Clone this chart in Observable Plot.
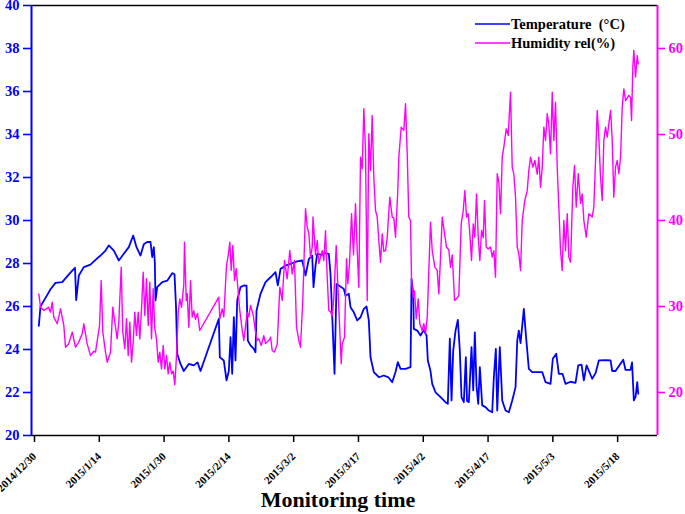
<!DOCTYPE html>
<html>
<head>
<meta charset="utf-8">
<script src="https://cdn.jsdelivr.net/npm/d3@7"></script>
<script src="https://cdn.jsdelivr.net/npm/@observablehq/plot@0.6"></script>
<style>
  body { margin: 0; background: #fff; }
  #chart svg { display: block; }
</style>
</head>
<body>
<div id="chart"></div>
<script>
// ---- Data ----
const startDate = "2014-12-30T00:00Z";
const endDate = "2015-05-28T18:00Z";

const xTickDates = ["2014-12-30T00:00Z","2015-01-14T12:00Z","2015-01-30T00:00Z","2015-02-14T12:00Z","2015-03-02T00:00Z","2015-03-17T12:00Z","2015-04-02T00:00Z","2015-04-17T12:00Z","2015-05-03T00:00Z","2015-05-18T12:00Z"];
const xTickLabels = ["2014/12/30","2015/1/14","2015/1/30","2015/2/14","2015/3/2","2015/3/17","2015/4/2","2015/4/17","2015/5/3","2015/5/18"];
const tempTicks = [20,22,24,26,28,30,32,34,36,38,40];
const humTicks = [20,30,40,50,60];
const tempDomain = [20, 40];
const humDomain = [15, 65];

// days since 2014-12-30
const tempDays = [1.75,2.15,3.35,4.55,5.74,7.34,8.54,9.74,10.41,10.69,11.32,12.51,14.11,15.31,16.51,17.70,18.49,19.69,20.89,22.08,23.28,24.33,25.12,26.08,26.87,27.68,28.47,28.88,29.26,29.50,29.67,30.07,31.27,32.46,33.66,34.21,34.57,34.86,35.65,36.43,37.63,38.83,39.71,40.43,44.81,45.05,46.00,46.65,47.20,47.61,48.01,48.40,48.80,49.21,50.00,50.79,51.44,51.75,52.39,53.18,53.59,53.83,54.78,55.98,57.18,58.37,58.92,59.57,60.77,61.96,63.56,64.76,65.55,66.34,67.15,67.46,67.94,68.35,69.55,70.33,71.12,71.53,72.01,72.49,72.97,73.52,74.71,75.12,75.91,76.32,77.10,77.92,78.71,79.50,80.14,80.69,81.10,81.89,83.09,84.28,85.41,86.29,87.08,87.63,88.28,89.47,90.67,90.91,91.32,91.46,92.27,93.06,93.78,94.50,94.81,95.45,95.86,96.65,97.85,99.04,99.59,100.07,100.48,100.88,101.44,101.99,102.46,102.87,103.42,103.90,104.19,104.62,105.26,105.67,106.05,106.46,106.87,107.25,107.82,108.61,109.40,110.21,110.60,111.08,111.41,112.03,112.61,113.40,114.19,115.00,115.79,116.20,116.58,116.99,117.78,118.18,118.97,119.78,122.18,122.97,124.16,124.71,125.53,126.15,127.03,127.75,128.95,130.14,130.79,131.58,132.13,132.78,134.13,134.93,135.72,137.32,138.52,138.92,139.71,141.55,142.11,143.30,143.66,144.09,144.50,144.90,145.14];
const tempValues = [25.1,26.0,26.4,26.8,27.1,27.13,27.4,27.67,27.8,26.3,27.44,27.83,27.95,28.17,28.37,28.6,28.84,28.6,28.14,28.45,28.76,29.3,28.76,28.37,28.9,29.0,29.0,28.3,28.76,28.06,26.28,26.9,27.13,27.2,27.55,27.5,26.0,23.8,23.33,23.0,23.33,23.26,23.4,23.0,25.43,23.64,23.49,22.56,23.0,24.57,22.87,25.5,23.49,26.28,26.9,26.98,26.97,24.42,24.19,24.03,23.87,25.81,26.59,27.13,27.36,27.6,26.98,27.75,27.9,27.98,28.1,28.14,27.44,28.2,28.37,26.9,27.9,28.45,28.4,28.48,28.45,27.5,25.2,22.87,27.05,26.98,26.82,26.5,26.59,25.97,25.73,25.35,25.5,25.89,26.0,25.35,23.64,22.95,22.71,22.79,22.7,22.48,22.95,23.41,23.1,23.1,23.18,27.28,26.59,24.96,24.88,24.65,24.9,24.65,23.49,23.0,22.4,22.01,21.78,21.55,21.47,24.5,21.63,23.95,24.88,25.38,23.95,21.78,21.55,23.64,21.6,21.55,24.11,22.1,24.8,22.3,21.47,23.18,21.4,21.32,21.16,21.08,22.71,24.03,21.16,24.11,21.63,21.16,21.08,21.63,22.25,24.42,24.88,24.3,25.89,24.88,23.1,22.95,22.95,22.48,22.4,23.57,23.8,22.87,22.87,22.4,22.5,22.45,23.26,23.3,22.56,23.26,22.64,22.9,23.49,23.5,23.49,23.0,23.0,23.52,23.05,23.05,23.4,21.63,21.8,22.48,21.94];

const humDays = [1.75,2.15,2.94,4.07,4.55,4.95,5.33,6.15,6.94,7.73,8.13,8.85,9.74,10.53,11.24,12.13,12.51,13.32,14.11,14.90,15.31,16.27,16.67,17.06,17.70,18.11,18.90,19.45,19.93,20.50,20.89,21.46,21.84,22.32,22.73,23.13,23.52,23.92,24.33,24.71,25.12,25.53,25.91,26.32,26.72,27.11,27.51,27.92,28.30,28.71,29.11,29.50,29.90,30.31,30.69,31.10,31.51,31.89,32.30,32.70,33.09,33.49,33.90,34.28,34.69,35.10,35.48,35.89,36.43,36.60,37.01,37.25,37.63,38.04,38.44,38.83,39.23,39.71,40.26,44.81,45.05,45.62,46.00,46.65,47.06,47.44,47.77,48.16,48.56,48.97,49.35,49.83,50.41,50.79,51.60,51.99,52.39,53.04,53.59,53.99,54.38,54.95,55.57,55.98,56.77,57.18,57.58,58.13,58.78,59.40,59.98,60.53,61.17,61.79,62.37,62.92,63.40,63.95,64.35,64.90,65.14,65.55,65.96,66.34,66.75,67.15,67.34,67.94,68.35,68.73,69.55,69.93,70.33,70.74,71.12,71.53,71.93,72.32,72.89,73.28,73.68,74.09,74.33,74.88,75.36,75.67,76.08,76.56,77.03,77.51,77.92,78.30,78.71,79.11,79.50,79.90,80.31,80.69,81.10,81.50,81.89,82.30,82.70,83.09,83.49,83.90,84.28,84.69,85.09,85.71,86.29,86.67,87.08,87.63,87.87,88.44,89.07,89.47,89.88,90.26,90.67,90.91,91.32,91.63,92.03,92.51,92.89,93.47,93.85,94.26,94.67,95.05,95.45,95.86,96.48,97.06,97.44,97.85,98.25,98.80,99.28,99.83,100.24,100.65,101.20,101.84,102.22,102.80,103.28,103.66,104.07,104.47,104.86,105.26,105.67,106.05,106.46,106.87,107.25,107.66,108.06,108.37,108.78,109.26,109.81,110.21,110.60,111.00,111.41,111.79,112.20,112.61,112.99,113.56,114.04,114.59,115.00,115.38,115.79,116.20,116.58,116.99,117.39,118.01,118.59,118.97,119.38,119.93,120.41,120.98,121.36,121.77,122.18,122.56,122.97,123.37,123.75,124.16,124.57,124.95,125.36,125.76,126.15,126.55,126.96,127.34,127.75,128.16,128.54,128.95,129.50,129.90,130.31,130.79,131.34,131.74,132.13,132.70,133.32,134.13,134.52,134.93,135.33,135.72,136.12,136.53,136.91,137.32,137.72,138.11,138.52,138.92,139.30,139.71,140.11,140.50,140.91,141.31,141.70,142.11,142.89,143.30,143.54,143.85,144.09,144.50,144.90,145.14];
const humValues = [31.47,29.92,29.53,29.9,29.34,30.5,28.76,27.99,29.73,27.79,25.27,25.6,27.01,25.27,25.8,26.82,27.99,25.66,24.3,24.8,24.69,27.79,33.02,27.01,24.69,23.52,24.69,29.92,28.17,26.24,28.17,34.57,27.01,25.08,28.57,24.3,28.17,23.52,25.85,29.34,26.63,29.34,26.24,29.73,33.99,28.95,33.22,27.79,32.83,26.24,32.06,27.4,26.24,23.52,24.69,22.75,25.47,22.75,24.3,22.17,23.52,22.17,22.5,20.9,24.3,29.34,30.89,29.9,32.5,37.48,30.7,31.5,27.6,33.0,28.76,29.5,28.5,29.2,27.21,31.08,28.57,29.73,28.8,34.77,35.93,37.48,34.2,37.09,33.02,34.4,32.24,29.53,27.21,26.05,29.34,28.8,30.12,29.0,27.01,26.05,26.24,25.47,26.6,25.7,26.05,26.43,24.88,24.7,25.6,32.24,30.7,35.35,33.22,36.51,33.8,35.35,27.6,26.05,25.27,30.7,34.57,41.36,39.22,38.5,35.74,36.9,40.4,36.0,37.67,35.0,36.5,35.35,38.8,33.4,29.53,29.4,28.9,31.0,37.1,32.5,27.99,23.34,25.66,26.43,35.55,32.64,35.0,40.78,36.0,41.94,36.5,32.24,47.36,46.0,52.99,48.14,30.7,50.08,45.81,52.21,45.04,41.16,40.39,37.67,35.15,38.45,36.4,36.51,38.0,42.71,40.39,40.3,38.06,43.49,47.36,50.85,50.5,53.57,47.75,40.39,40.0,33.02,31.08,31.8,28.57,30.89,27.99,27.21,28.0,26.82,28.76,34.19,39.81,36.51,34.57,34.2,31.47,35.74,40.39,38.5,36.9,36.6,34.57,36.0,30.7,31.0,31.28,39.61,41.16,43.49,40.4,40.78,38.45,35.35,39.6,38.06,43.1,38.06,35.35,38.84,38.0,42.33,36.9,36.7,36.9,35.74,36.5,33.4,45.43,44.5,40.78,47.36,48.52,50.66,49.9,54.92,46.2,45.4,42.71,36.9,36.12,34.19,40.0,42.33,43.5,45.81,47.36,46.2,46.98,45.4,47.36,43.87,46.2,50.85,49.3,52.41,51.2,47.75,54.92,49.3,53.76,46.2,41.55,36.51,34.19,40.0,36.5,40.8,35.74,35.15,43.87,46.4,41.55,45.43,42.0,43.1,40.0,38.06,40.78,40.4,41.55,46.98,52.79,49.7,45.04,42.33,49.3,50.85,49.7,51.24,52.79,49.3,42.71,46.2,46.98,45.43,47.36,53.18,55.31,53.95,54.54,54.3,51.63,57.83,59.77,56.67,59.19,58.2];

// ---- Build tables ----
const t0 = new Date(startDate).getTime();
const toDate = d => new Date(t0 + d * 864e5);
const temperature = tempDays.map((d, i) => ({date: toDate(d), value: tempValues[i]}));
const humidity = humDays.map((d, i) => ({date: toDate(d), value: humValues[i]}));
const xTicks = xTickDates.map(s => new Date(s));

// humidity (right axis) mapped onto the temperature (left) scale
const h2t = d3.scaleLinear(humDomain, tempDomain);

const BLUE = "#0000ff", MAGENTA = "#ff00ff";
const FONT = "'Liberation Serif', 'Times New Roman', serif";

const chart = Plot.plot({
  width: 685,
  height: 514,
  marginLeft: 31,
  marginRight: 28,
  marginTop: 5,
  marginBottom: 79,
  style: {fontFamily: FONT, fontWeight: "bold", background: "#fff", overflow: "visible"},
  x: {type: "utc", domain: [new Date(startDate), new Date(endDate)]},
  y: {domain: tempDomain},
  marks: [
    Plot.axisY({ticks: tempTicks, tickSize: 8, tickPadding: 4, stroke: BLUE, fill: BLUE, fontSize: 14.5, strokeWidth: 1.6, label: null, tickFormat: d => String(d)}),
    Plot.axisY(humTicks, {y: h2t, anchor: "right", tickSize: 7, tickPadding: 4, stroke: MAGENTA, fill: MAGENTA, fontSize: 14.5, strokeWidth: 1.6, label: null, tickFormat: d => String(d)}),
    Plot.axisX({ticks: xTicks, tickFormat: (d, i) => xTickLabels[i], tickRotate: -45, tickSize: 7, tickPadding: 12, dx: 3, fontSize: 11, stroke: "#000", fill: "#000", strokeWidth: 1.5, label: null}),
    Plot.ruleY([tempDomain[0], tempDomain[1]], {stroke: "#000", strokeWidth: 1.6}),
    Plot.ruleX([new Date(startDate)], {stroke: BLUE, strokeWidth: 2}),
    Plot.ruleX([new Date(endDate)], {stroke: MAGENTA, strokeWidth: 2}),
    Plot.line(temperature, {x: "date", y: "value", stroke: BLUE, strokeWidth: 1.8}),
    Plot.line(humidity, {x: "date", y: d => h2t(d.value), stroke: MAGENTA, strokeWidth: 1.4})
  ]
});

// Axis title and legend
const svg = d3.select(chart);
svg.append("text")
  .attr("x", 338).attr("y", 507)
  .attr("text-anchor", "middle")
  .attr("font-family", FONT).attr("font-weight", "bold").attr("font-size", 22)
  .attr("fill", "#000")
  .text("Monitoring time");

const legendItems = [
  {label: "Temperature  (\u00B0C)", color: BLUE},
  {label: "Humidity rel(%)", color: MAGENTA}
];
legendItems.forEach((item, i) => {
  const y = 24 + i * 19;
  svg.append("line")
    .attr("x1", 475).attr("x2", 510).attr("y1", y).attr("y2", y)
    .attr("stroke", item.color).attr("stroke-width", 1.5);
  svg.append("text")
    .attr("x", 511).attr("y", y + 5)
    .attr("text-anchor", "start")
    .attr("font-family", FONT).attr("font-weight", "bold").attr("font-size", 14.5)
    .attr("fill", "#000")
    .text(item.label);
});

document.getElementById("chart").appendChild(chart);
</script>
</body>
</html>
